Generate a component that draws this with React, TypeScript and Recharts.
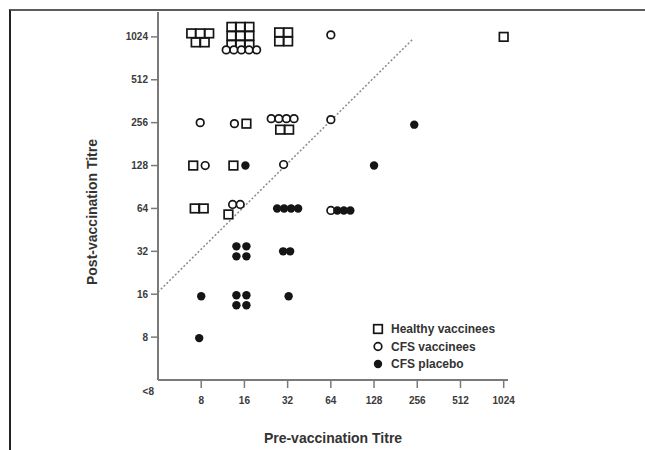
import React from "react"
import { ScatterChart, Scatter, XAxis, YAxis, ReferenceLine } from "recharts"

// [pre titre, post titre, number of subjects]
const healthyVaccinees: [number, number, number][] = [
  [8, 1024, 5], [16, 1024, 9], [32, 1024, 4], [1024, 1024, 1],
  [16, 256, 1], [32, 256, 2],
  [8, 128, 1], [16, 128, 1],
  [8, 64, 2], [16, 64, 1],
]
const cfsVaccinees: [number, number, number][] = [
  [16, 1024, 5], [64, 1024, 1],
  [8, 256, 1], [16, 256, 1], [32, 256, 4], [64, 256, 1],
  [8, 128, 1], [32, 128, 1],
  [16, 64, 2], [64, 64, 1],
]
const cfsPlacebo: [number, number, number][] = [
  [256, 256, 1],
  [16, 128, 1], [128, 128, 1],
  [32, 64, 4], [64, 64, 3],
  [16, 32, 4], [32, 32, 2],
  [8, 16, 1], [16, 16, 4], [32, 16, 1],
  [8, 8, 1],
]
const titreTicks = [8, 16, 32, 64, 128, 256, 512, 1024]
const belowLabel = "<8"
const BELOW = 4 // "<8" plotted one doubling under 8

// how each pile of identical results is laid out (pixels)
type Lay = { cols?: number; dx?: number; dy?: number; pitch?: number }
const layout: Record<string, Lay> = {
  "h:8:1024": { cols: 3, dx: -1, dy: 1 },
  "h:16:1024": { cols: 3, dx: -4, dy: -1 },
  "h:32:1024": { cols: 2, dx: -4 },
  "h:16:256": { dx: 2, dy: 1 },
  "h:32:256": { dx: -3, dy: 7 },
  "h:8:128": { dx: -8 },
  "h:16:128": { dx: -11 },
  "h:8:64": { dx: -2 },
  "h:16:64": { dx: -16, dy: 6 },
  "c:16:1024": { dx: -3, dy: 13 },
  "c:64:1024": { dy: -2 },
  "c:8:256": { dx: -1 },
  "c:16:256": { dx: -10, dy: 1 },
  "c:32:256": { dx: -5, dy: -4 },
  "c:64:256": { dy: -3 },
  "c:8:128": { dx: 4 },
  "c:32:128": { dx: -4, dy: -1 },
  "c:16:64": { dx: -8, dy: -4 },
  "c:64:64": { dy: 2 },
  "p:256:256": { dx: -3, dy: 2 },
  "p:16:128": { dx: 1 },
  "p:64:64": { dx: 13, dy: 2, pitch: 6.5 },
  "p:16:32": { cols: 2, dx: -3, pitch: 10 },
  "p:32:32": { dx: -1 },
  "p:8:16": { dy: 2 },
  "p:16:16": { cols: 2, dx: -3, dy: 6, pitch: 10 },
  "p:32:16": { dx: 1, dy: 2 },
  "p:8:8": { dx: -2, dy: 1 },
}

const toLog = (t: number) => Math.log2(t)
const build = (kind: string, rows: [number, number, number][]) =>
  rows.map(([pre, post, n]) => ({ x: toLog(pre), y: toLog(post), n, key: `${kind}:${pre}:${post}` }))

const INK = "#151515"
const FONT = "'Liberation Sans', Arial, sans-serif"
const pitchOf: Record<string, number> = { h: 9, c: 7.6, p: 7 }

function Marker({ kind, x, y }: { kind: string; x: number; y: number }) {
  if (kind === "h") return <rect x={x - 4.3} y={y - 4.3} width={8.6} height={8.6} fill="#fff" stroke={INK} strokeWidth={1.7} />
  if (kind === "c") return <circle cx={x} cy={y} r={3.8} fill="#fff" stroke={INK} strokeWidth={1.7} />
  return <circle cx={x} cy={y} r={4.2} fill={INK} />
}

function Pile(props: any) {
  const { cx, cy, payload, kind } = props
  if (cx == null || cy == null) return null
  const lay = layout[payload.key] || {}
  const n = payload.n
  const cols = lay.cols ?? n
  const p = lay.pitch ?? pitchOf[kind]
  const rows = Math.ceil(n / cols)
  const out = []
  for (let i = 0; i < n; i++) {
    const r = Math.floor(i / cols)
    const c = i % cols
    const inRow = Math.min(cols, n - r * cols)
    const x = cx + (lay.dx ?? 0) + (c - (inRow - 1) / 2) * p
    const y = cy + (lay.dy ?? 0) + (r - (rows - 1) / 2) * p
    out.push(<Marker key={i} kind={kind} x={x} y={y} />)
  }
  return <g>{out}</g>
}

const tickFont = { fontFamily: FONT, fontSize: 10, fontWeight: 700, fill: "#3a3a3a" }
const labelStyle = { fontFamily: FONT, fontSize: 14, fontWeight: 700, fill: "#333" }

function YTick({ x, y, payload }: any) {
  if (payload.value === 2) {
    return <text x={x + 4} y={y + 11} textAnchor="end" dominantBaseline="central" {...tickFont}>{belowLabel}</text>
  }
  return (
    <g>
      <line x1={x + 1} x2={x + 9} y1={y} y2={y} stroke="#7a7a7a" strokeWidth={1.5} />
      <text x={x - 2} y={y} textAnchor="end" dominantBaseline="central" {...tickFont}>{2 ** payload.value}</text>
    </g>
  )
}

function XTick({ x, y, payload }: any) {
  return (
    <g>
      <line x1={x} x2={x} y1={y - 8} y2={y} stroke="#7a7a7a" strokeWidth={1.5} />
      <text x={x} y={y + 12} textAnchor="middle" dominantBaseline="central" {...tickFont}>{2 ** payload.value}</text>
    </g>
  )
}

function YTitle({ viewBox }: any) {
  const cx = viewBox.x + viewBox.width / 2
  const cy = viewBox.y + viewBox.height / 2 + 16
  return (
    <text x={cx} y={cy} transform={`rotate(-90 ${cx} ${cy})`} textAnchor="middle" dominantBaseline="central" style={labelStyle}>
      Post-vaccination Titre
    </text>
  )
}

const legendItems = [
  { kind: "h", label: "Healthy vaccinees" },
  { kind: "c", label: "CFS vaccinees" },
  { kind: "p", label: "CFS placebo" },
]

function LegendBox() {
  return (
    <svg width={150} height={56} style={{ position: "absolute", left: 370, top: 320 }}>
      {legendItems.map((it, i) => (
        <g key={it.kind}>
          <Marker kind={it.kind} x={8} y={9 + i * 17.5} />
          <text x={21} y={9 + i * 17.5} dominantBaseline="central"
            style={{ fontFamily: FONT, fontSize: 12, fontWeight: 700, fill: "#333" }}>
            {it.label}
          </text>
        </g>
      ))}
    </svg>
  )
}

export default function App() {
  return (
    <div style={{ position: "absolute", left: 0, top: 0, width: 645, height: 450, background: "#fff" }}>
      <div style={{ position: "absolute", left: 9, top: 9, width: 636, height: 441, borderTop: "2px solid #5c5c5c", borderLeft: "2px solid #222" }} />
      <div style={{ position: "absolute", left: 0, top: 0 }}>
        <ScatterChart width={645} height={450} margin={{ top: 12, right: 137, bottom: 10, left: 26 }}>
          <XAxis
            type="number" dataKey="x" domain={[2, 10.1]} ticks={titreTicks.map(toLog)}
            tick={<XTick />} tickLine={false} axisLine={{ stroke: "#7a7a7a", strokeWidth: 2 }} height={60}
            label={{ value: "Pre-vaccination Titre", position: "insideBottom", offset: -3, style: labelStyle }}
          />
          <YAxis
            type="number" dataKey="y" domain={[2, 10.58]} ticks={[toLog(BELOW), ...titreTicks.map(toLog)]}
            tick={<YTick />} tickLine={false} axisLine={{ stroke: "#7a7a7a", strokeWidth: 2 }} width={132}
            label={{ content: (p: any) => <YTitle {...p} /> }}
          />
          <ReferenceLine
            segment={[{ x: 2, y: 4.05 }, { x: 7.9, y: 9.95 }]}
            stroke="#8a8a8a" strokeWidth={1.5} strokeDasharray="2 2"
          />
          <Scatter name="Healthy vaccinees" data={build("h", healthyVaccinees)} shape={(p: any) => <Pile {...p} kind="h" />} isAnimationActive={false} />
          <Scatter name="CFS vaccinees" data={build("c", cfsVaccinees)} shape={(p: any) => <Pile {...p} kind="c" />} isAnimationActive={false} />
          <Scatter name="CFS placebo" data={build("p", cfsPlacebo)} shape={(p: any) => <Pile {...p} kind="p" />} isAnimationActive={false} />
        </ScatterChart>
      </div>
      <LegendBox />
    </div>
  )
}
